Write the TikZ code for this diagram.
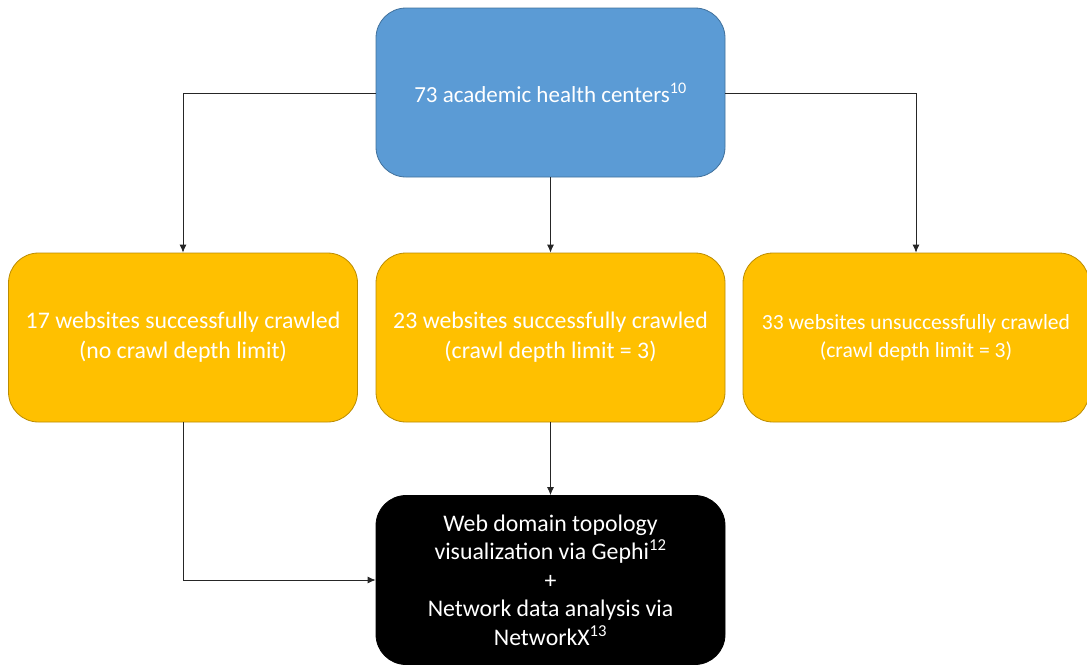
\documentclass[tikz,border=0pt]{standalone}
\usepackage{fontspec}
\setmainfont{Carlito}
\usetikzlibrary{arrows.meta}
\definecolor{topblue}{HTML}{5B9BD5}
\definecolor{topedge}{HTML}{41719C}
\definecolor{amber}{HTML}{FFC000}
\definecolor{amberedge}{HTML}{BC8C00}
\begin{document}
\begin{tikzpicture}[x=1pt,y=-1pt,
  box/.style={rounded corners=30pt, minimum width=349pt, minimum height=169pt,
    text=white, align=center, font=\fontsize{23.8}{30}\selectfont, inner sep=0pt, line width=0.8pt},
  bluebox/.style={box, fill=topblue, draw=topedge},
  amberbox/.style={box, fill=amber, draw=amberedge},
  darkbox/.style={box, fill=black, draw=black, font=\fontsize{23.8}{28.5}\selectfont},
  link/.style={draw=black!85, line width=0.8pt, -{Latex[length=8pt,width=7pt]}}]
\useasboundingbox (0,0) rectangle (1087,664);
\node[bluebox, font=\fontsize{23}{30}\selectfont] (centers) at (550.5,92.5) {73 academic health centers\textsuperscript{10}};
\node[amberbox] (full) at (183,337.5) {17 websites successfully crawled\\(no crawl depth limit)};
\node[amberbox] (limited) at (550.5,337.5) {23 websites successfully crawled\\(crawl depth limit = 3)};
\node[amberbox, minimum width=346pt, font=\fontsize{21.6}{28}\selectfont] (failed) at (916,337.5) {33 websites unsuccessfully crawled\\(crawl depth limit = 3)};
\node[darkbox] (analysis) at (550.5,580) {Web domain topology\\visualization via Gephi\textsuperscript{12}\\+\\Network data analysis via\\NetworkX\textsuperscript{13}};
\draw[link] (centers.west |- 0,93) -| (full.north);
\draw[link] (centers.east |- 0,93) -| (failed.north);
\draw[link] (centers.south) -- (limited.north);
\draw[link] (limited.south) -- (analysis.north);
\draw[link] (full.south) |- (analysis.west);
\end{tikzpicture}
\end{document}
